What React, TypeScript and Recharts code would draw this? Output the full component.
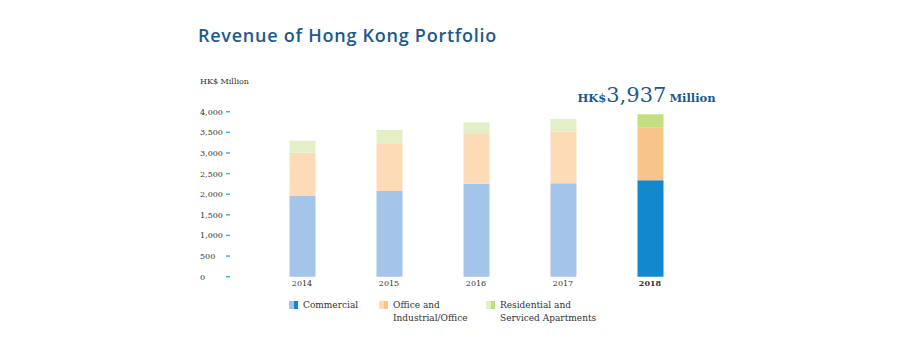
import React from "react";
import { BarChart, Bar, XAxis, YAxis, Cell, LabelList } from "recharts";

const years = ["2014", "2015", "2016", "2017", "2018"];
const commercial = [1956, 2077, 2255, 2264, 2337];
const office = [1050, 1156, 1204, 1251, 1285];
const residential = [291, 323, 284, 308, 315];
const yTicks = [0, 500, 1000, 1500, 2000, 2500, 3000, 3500, 4000];
const highlightYear = "2018";

const seriesKeys = ["commercial", "office", "residential"] as const;
const seriesNames = ["Commercial", "Office and\nIndustrial/Office", "Residential and\nServiced Apartments"];
const lightColors = ["#a4c5e9", "#fcdbb6", "#e3efc7"];
const darkColors = ["#1289cf", "#f8c489", "#c3dd82"];

const data = years.map((y, i) => ({
  year: y,
  commercial: commercial[i],
  office: office[i],
  residential: residential[i],
}));

const TITLE_BLUE = "#1b5a8c";
const SERIF = "'DejaVu Serif', serif";

const YTick = (props: any) => {
  const { y, payload } = props;
  return (
    <g>
      <text x={200} y={y} dy={3} fontFamily={SERIF} fontSize={8} fill="#333" textAnchor="start">
        {payload.value.toLocaleString("en-US")}
      </text>
      <rect x={226} y={y - 0.75} width={4} height={1.5} fill="#3fb6e6" />
    </g>
  );
};

const XTick = (props: any) => {
  const { x, y, payload } = props;
  const bold = payload.value === highlightYear;
  return (
    <text x={x} y={y} dy={1} fontFamily={SERIF} fontSize={8} fill="#333" textAnchor="middle" fontWeight={bold ? "bold" : "normal"}>
      {payload.value}
    </text>
  );
};

const totalLabel = (props: any) => {
  const { x, y, width, index } = props;
  if (years[index] !== highlightYear) return null;
  const total = commercial[index] + office[index] + residential[index];
  return (
    <text x={x + width / 2 - 4} y={y - 12} textAnchor="middle" fill={TITLE_BLUE} fontFamily={SERIF}>
      <tspan fontSize={11.5} fontWeight="bold">HK$</tspan>
      <tspan fontSize={21}>{total.toLocaleString("en-US")}</tspan>
      <tspan fontSize={11.5} fontWeight="bold" dx={3}>Million</tspan>
    </text>
  );
};

export default function App() {
  return (
    <div style={{ position: "absolute", left: 0, top: 0, width: 912, height: 353, background: "#fff" }}>
      <div
        style={{
          position: "absolute",
          left: 198,
          top: 22.5,
          fontFamily: "'Open Sans', sans-serif",
          fontWeight: 600,
          fontSize: 18,
          letterSpacing: 0.75,
          color: TITLE_BLUE,
          whiteSpace: "nowrap",
        }}
      >
        Revenue of Hong Kong Portfolio
      </div>
      <div style={{ position: "absolute", left: 200, top: 77, fontFamily: SERIF, fontSize: 8, color: "#333" }}>
        HK$ Million
      </div>
      <BarChart
        width={912}
        height={353}
        data={data}
        margin={{ top: 111.7, right: 218.5, bottom: 56.3, left: 200 }}
        barSize={26}
      >
        <YAxis
          domain={[0, 4000]}
          ticks={yTicks}
          width={58.5}
          axisLine={false}
          tickLine={false}
          tick={<YTick />}
          interval={0}
        />
        <XAxis dataKey="year" height={20} axisLine={false} tickLine={false} tick={<XTick />} interval={0} />
        {seriesKeys.map((k, si) => (
          <Bar key={k} dataKey={k} stackId="a" isAnimationActive={false}>
            {data.map((d) => (
              <Cell key={d.year} fill={d.year === highlightYear ? darkColors[si] : lightColors[si]} />
            ))}
            {si === seriesKeys.length - 1 ? <LabelList content={totalLabel} /> : null}
          </Bar>
        ))}
      </BarChart>
      <div style={{ position: "absolute", left: 289, top: 299, display: "flex", fontFamily: SERIF, fontSize: 9, color: "#333", lineHeight: "13px" }}>
        {seriesNames.map((n, i) => (
          <div key={n} style={{ display: "flex", alignItems: "flex-start", width: [90, 107, 140][i] }}>
            <svg width={9} height={8} style={{ marginTop: 2, marginRight: 5, flex: "none" }}>
              <rect x={0} y={0} width={5} height={8} fill={lightColors[i]} />
              <rect x={5} y={0} width={4} height={8} fill={darkColors[i]} />
            </svg>
            <div style={{ whiteSpace: "pre" }}>{n}</div>
          </div>
        ))}
      </div>
    </div>
  );
}
